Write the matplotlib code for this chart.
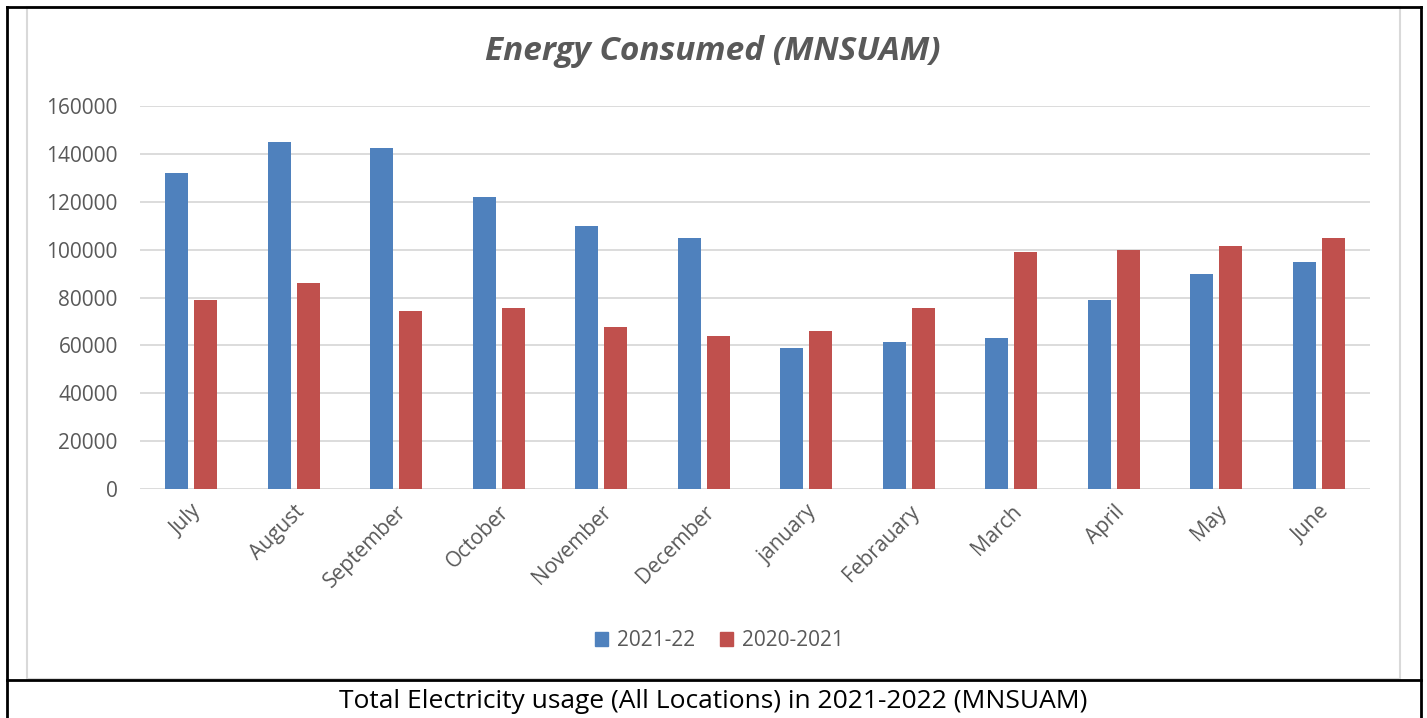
import matplotlib
matplotlib.use("Agg")
import matplotlib.pyplot as plt
import numpy as np
from matplotlib.lines import Line2D
from matplotlib.patches import Rectangle, Patch

months = ["July", "August", "September", "October", "November", "December",
          "january", "Febrauary", "March", "April", "May", "June"]
series_2021_22 = [132000, 145000, 142500, 122000, 110000, 105000,
                  59000, 61500, 63000, 79000, 90000, 95000]
series_2020_21 = [79000, 86000, 74500, 75500, 67500, 64000,
                  66000, 75500, 99000, 100000, 101500, 105000]
series_names = ["2021-22", "2020-2021"]
yticks = [0, 20000, 40000, 60000, 80000, 100000, 120000, 140000, 160000]

title = "Energy Consumed (MNSUAM)"
caption = "Total Electricity usage (All Locations) in 2021-2022 (MNSUAM)"

BLUE = "#4F81BD"
RED = "#C0504D"
GRAY_TXT = "#595959"
GRID = "#D9D9D9"
FONT = ["Open Sans", "DejaVu Sans"]
plt.rcParams["font.family"] = FONT

W, H = 1427, 718
fig = plt.figure(figsize=(W / 100, H / 100), dpi=100)
fig.patch.set_facecolor("white")

def px(x, y):
    return x / W, 1 - y / H

# axes in pixel coords
left, right, top, bottom = 140, 1370, 106, 489
ax = fig.add_axes([left / W, 1 - bottom / H, (right - left) / W, (bottom - top) / H])

x = np.arange(len(months))
bw = 0.225
off = 0.142
ax.bar(x - off, series_2021_22, width=bw, color=BLUE, label=series_names[0], zorder=3)
ax.bar(x + off, series_2020_21, width=bw, color=RED, label=series_names[1], zorder=3)

ax.set_xlim(-0.5, len(months) - 0.5)
ax.set_ylim(0, 160000)
ax.set_yticks(yticks)
ax.set_yticklabels([str(v) for v in yticks], color=GRAY_TXT, fontsize=15)
ax.yaxis.grid(True, color=GRID, linewidth=1.3, zorder=0)
ax.set_axisbelow(True)
for s in ax.spines.values():
    s.set_visible(False)
ax.tick_params(axis="y", length=0, pad=16)
ax.tick_params(axis="x", length=0, pad=9)
ax.set_xticks(x)
ax.set_xticklabels(months, rotation=45, ha="right", va="top",
                   rotation_mode="anchor", color=GRAY_TXT, fontsize=15)

# title
fig.text(*px(713, 52), title, ha="center", va="center", fontsize=24,
         fontstyle="italic", fontweight="bold", color=GRAY_TXT)

# legend
handles = [Patch(color=BLUE), Patch(color=RED)]
fig.legend(handles, series_names, loc="center", bbox_to_anchor=px(719, 641),
           ncol=2, frameon=False, fontsize=15, handlelength=0.65, handleheight=0.65,
           handletextpad=0.4, columnspacing=1.2, labelcolor=GRAY_TXT)

# caption
fig.text(*px(713, 701), caption, ha="center", va="center", fontsize=19, color="black")

# inner light gray chart frame
fig.add_artist(Rectangle(px(27, 679), (1400 - 27) / W, (679 - 7) / H,
                         transform=fig.transFigure, fill=False,
                         edgecolor="#D9D9D9", linewidth=1.5))
# outer black border lines
lw = 2
fig.add_artist(Line2D([7 / W, 7 / W], [1 - 7 / H, 0], transform=fig.transFigure,
                      color="black", linewidth=lw))
fig.add_artist(Line2D([1421 / W, 1421 / W], [1 - 7 / H, 0], transform=fig.transFigure,
                      color="black", linewidth=lw))
fig.add_artist(Line2D([7 / W, 1421 / W], [1 - 7 / H, 1 - 7 / H], transform=fig.transFigure,
                      color="black", linewidth=lw))
fig.add_artist(Line2D([7 / W, 1421 / W], [1 - 680 / H, 1 - 680 / H], transform=fig.transFigure,
                      color="black", linewidth=lw))

fig.savefig("out.png", dpi=100, facecolor="white")
